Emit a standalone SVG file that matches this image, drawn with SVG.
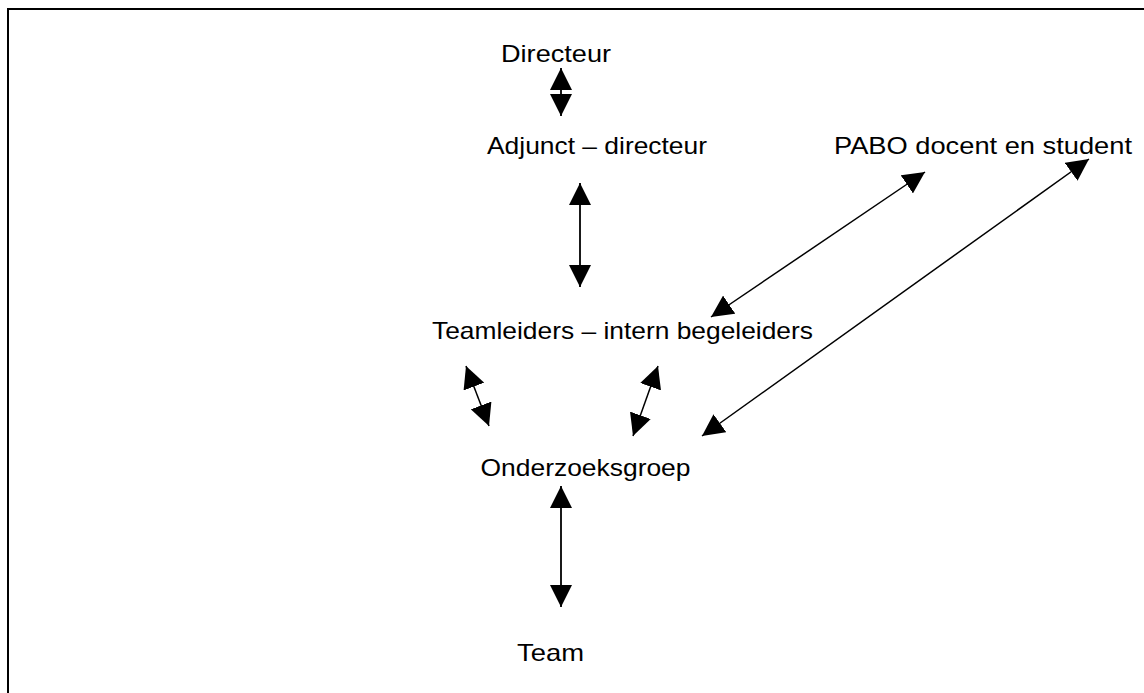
<svg xmlns="http://www.w3.org/2000/svg" width="1144" height="693" viewBox="0 0 1144 693">
  <style>
    .lbl { font-family: "Liberation Sans", Arial, sans-serif; font-size: 24px; fill: #000; }
    .link { stroke: #000; stroke-width: 1.8; fill: none; marker-start: url(#head); marker-end: url(#head); }
    .diag { stroke-width: 1.5; }
    .frame { stroke: #000; stroke-width: 2; fill: none; }
  </style>
  <defs>
    <marker id="head" markerUnits="userSpaceOnUse" markerWidth="22" markerHeight="22" viewBox="0 0 21 21" refX="21" refY="10.5" orient="auto-start-reverse">
      <path d="M0,0 L21,10.5 L0,21 Z" fill="#000"/>
    </marker>
  </defs>

  <rect width="1144" height="693" fill="#fff"/>
  <!-- open frame: top and left edges -->
  <path class="frame" d="M8,693 V9 H1144"/>

  <g id="connectors">
    <line class="link" x1="561" y1="68" x2="561" y2="116"/>
    <line class="link" x1="580" y1="183" x2="580" y2="287"/>
    <line class="link diag" x1="925" y1="172" x2="711" y2="317"/>
    <line class="link diag" x1="1089" y1="159" x2="702" y2="436"/>
    <line class="link diag" x1="466" y1="366" x2="489" y2="426"/>
    <line class="link diag" x1="658" y1="366" x2="633" y2="436"/>
    <line class="link" x1="561" y1="486" x2="561" y2="607"/>
  </g>

  <g id="directeur"><text class="lbl" x="501" y="62" textLength="110" lengthAdjust="spacingAndGlyphs">Directeur</text></g>
  <g id="adjunct"><text class="lbl" x="487" y="154" textLength="220" lengthAdjust="spacingAndGlyphs">Adjunct – directeur</text></g>
  <g id="pabo"><text class="lbl" x="834" y="154" textLength="298" lengthAdjust="spacingAndGlyphs">PABO docent en student</text></g>
  <g id="teamleiders"><text class="lbl" x="432" y="339" textLength="381" lengthAdjust="spacingAndGlyphs">Teamleiders – intern begeleiders</text></g>
  <g id="onderzoeksgroep"><text class="lbl" x="480.5" y="476" textLength="210" lengthAdjust="spacingAndGlyphs">Onderzoeksgroep</text></g>
  <g id="team"><text class="lbl" x="517" y="661" textLength="67" lengthAdjust="spacingAndGlyphs">Team</text></g>
</svg>
